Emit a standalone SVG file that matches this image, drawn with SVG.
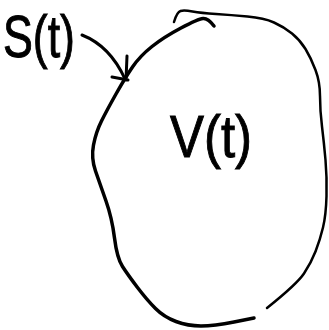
<svg xmlns="http://www.w3.org/2000/svg" width="329" height="330" viewBox="0 0 329 330">
<style>
.ink{fill:none;stroke:#000;stroke-linecap:round;stroke-linejoin:round}
.lbl{font-family:"Liberation Sans","DejaVu Sans",sans-serif;font-size:60px;fill:#000;stroke:#000;stroke-width:1}
</style>
<rect width="329" height="330" fill="#fff"/>
<g id="volume">
<path class="ink" stroke-width="3.5" d="M214,26 Q208,18 203,18.5 Q198,19 181,28 Q164,37 152,46.5 Q140,56 132.5,67 Q125,78 116,94 Q107,110 101.5,121 Q96,132 93.5,145 Q91,158 95.5,171 Q100,184 106,201 Q112,218 114.5,238 Q117,258 122.5,266.5 Q128,275 137.5,287.5 Q147,300 155.5,308.5 Q164,317 176,321.5 Q188,326 201,326 Q214,326 234,322 L254,318"/>
<path class="ink" stroke-width="2.5" d="M267,308 Q297,284 304,273.5 Q311,263 315.5,251.5 Q320,240 323,227.5 Q326,215 326.5,196 Q327,177 325.5,160 Q324,143 322,126.5 Q320,110 320,96 Q320,82 315.5,70 Q311,58 305.5,49 Q300,40 292,33.5 Q284,27 274,22.5 Q264,18 247.5,16.5 Q231,15 216,14 Q201,13 192.5,11.5 Q184,10 180.5,11 Q177,12 174,22"/>
<text class="lbl" x="170" y="157" textLength="82" lengthAdjust="spacingAndGlyphs">V(t)</text>
</g>
<g id="surface">
<text class="lbl" x="3" y="57" textLength="72" lengthAdjust="spacingAndGlyphs">S(t)</text>
</g>
<g id="connectors">
<path class="ink" stroke-width="3" d="M82,35 Q110,46 125,79"/>
<path class="ink" stroke-width="3" d="M127,56 L126,80 M112,77 L128,80"/>
</g>
</svg>
